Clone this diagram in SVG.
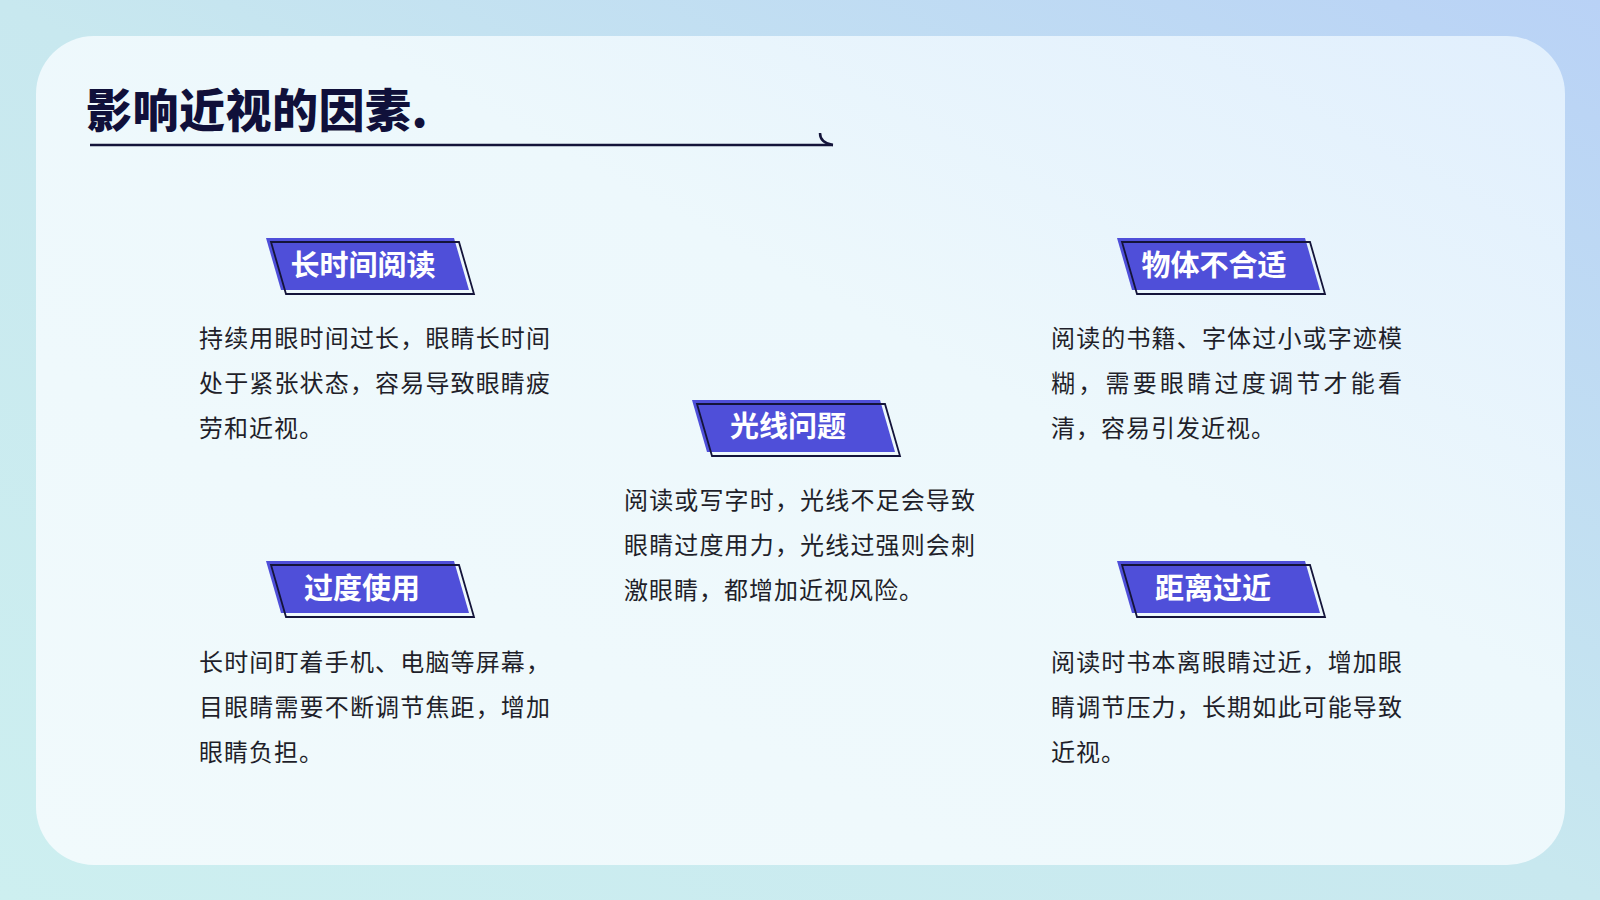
<svg xmlns="http://www.w3.org/2000/svg" width="1600" height="900" viewBox="0 0 1600 900">
<defs>
<linearGradient id="bg" x1="0" y1="1" x2="1" y2="0">
<stop offset="0" stop-color="#cdeff0"/>
<stop offset="0.5" stop-color="#c8e8ef"/>
<stop offset="1" stop-color="#b9d2f6"/>
</linearGradient>
<linearGradient id="card" x1="0" y1="1" x2="1" y2="0">
<stop offset="0" stop-color="#f1fafc"/>
<stop offset="0.6" stop-color="#edf8fc"/>
<stop offset="1" stop-color="#e1effd"/>
</linearGradient>
<polygon id="tagShape" points="0,0 188,0 203,52 15,52"/>
</defs>
<style>
.tagfill{fill:#4f4fd9}
.tagline{fill:none;stroke:#14143a;stroke-width:1.8}
.tagtxt{font-family:"Noto Sans CJK SC","Noto Sans",sans-serif;font-weight:700;font-size:29px;fill:#ffffff;text-anchor:middle}
.body{font-family:"Noto Sans CJK SC","Noto Sans",sans-serif;font-size:24px;fill:#1f1f2a}
.title{font-family:"Noto Sans CJK SC","Noto Sans",sans-serif;font-weight:900;font-size:46px;fill:#10103a;letter-spacing:0.5px}
</style>
<rect x="0" y="0" width="1600" height="900" fill="url(#bg)"/>
<rect x="36" y="36" width="1529" height="829" rx="58" ry="58" fill="url(#card)"/>

<g id="title">
<text class="title" x="86" y="127">影响近视的因素.</text>
<path d="M90 145 L833 145" stroke="#14143a" stroke-width="2.5" fill="none"/>
<path d="M820 133 Q820 143 833 145" stroke="#14143a" stroke-width="2.5" fill="none"/>
</g>

<g id="node-reading-long">
<use href="#tagShape" x="266" y="238" class="tagfill"/>
<use href="#tagShape" x="271" y="242" class="tagline"/>
<text class="tagtxt" x="363" y="276">长时间阅读</text>
<text class="body" x="199" y="347" textLength="351" lengthAdjust="spacing">持续用眼时间过长，眼睛长时间</text>
<text class="body" x="199" y="392" textLength="351" lengthAdjust="spacing">处于紧张状态，容易导致眼睛疲</text>
<text class="body" x="199" y="437" letter-spacing="1">劳和近视。</text>
</g>

<g id="node-object">
<use href="#tagShape" x="1117" y="238" class="tagfill"/>
<use href="#tagShape" x="1122" y="242" class="tagline"/>
<text class="tagtxt" x="1214" y="276">物体不合适</text>
<text class="body" x="1051" y="347" textLength="351" lengthAdjust="spacing">阅读的书籍、字体过小或字迹模</text>
<text class="body" x="1051" y="392" textLength="351" lengthAdjust="spacing">糊，需要眼睛过度调节才能看</text>
<text class="body" x="1051" y="437" letter-spacing="1">清，容易引发近视。</text>
</g>

<g id="node-light">
<use href="#tagShape" x="692" y="400" class="tagfill"/>
<use href="#tagShape" x="697" y="404" class="tagline"/>
<text class="tagtxt" x="788" y="437">光线问题</text>
<text class="body" x="624" y="509" textLength="351" lengthAdjust="spacing">阅读或写字时，光线不足会导致</text>
<text class="body" x="624" y="554" textLength="351" lengthAdjust="spacing">眼睛过度用力，光线过强则会刺</text>
<text class="body" x="624" y="599" letter-spacing="1">激眼睛，都增加近视风险。</text>
</g>

<g id="node-overuse">
<use href="#tagShape" x="266" y="561" class="tagfill"/>
<use href="#tagShape" x="271" y="565" class="tagline"/>
<text class="tagtxt" x="362" y="599">过度使用</text>
<text class="body" x="199" y="671" textLength="351" lengthAdjust="spacing">长时间盯着手机、电脑等屏幕，</text>
<text class="body" x="199" y="716" textLength="351" lengthAdjust="spacing">目眼睛需要不断调节焦距，增加</text>
<text class="body" x="199" y="761" letter-spacing="1">眼睛负担。</text>
</g>

<g id="node-distance">
<use href="#tagShape" x="1117" y="561" class="tagfill"/>
<use href="#tagShape" x="1122" y="565" class="tagline"/>
<text class="tagtxt" x="1213" y="599">距离过近</text>
<text class="body" x="1051" y="671" textLength="351" lengthAdjust="spacing">阅读时书本离眼睛过近，增加眼</text>
<text class="body" x="1051" y="716" textLength="351" lengthAdjust="spacing">睛调节压力，长期如此可能导致</text>
<text class="body" x="1051" y="761" letter-spacing="1">近视。</text>
</g>

<g id="connectors"/>
</svg>
